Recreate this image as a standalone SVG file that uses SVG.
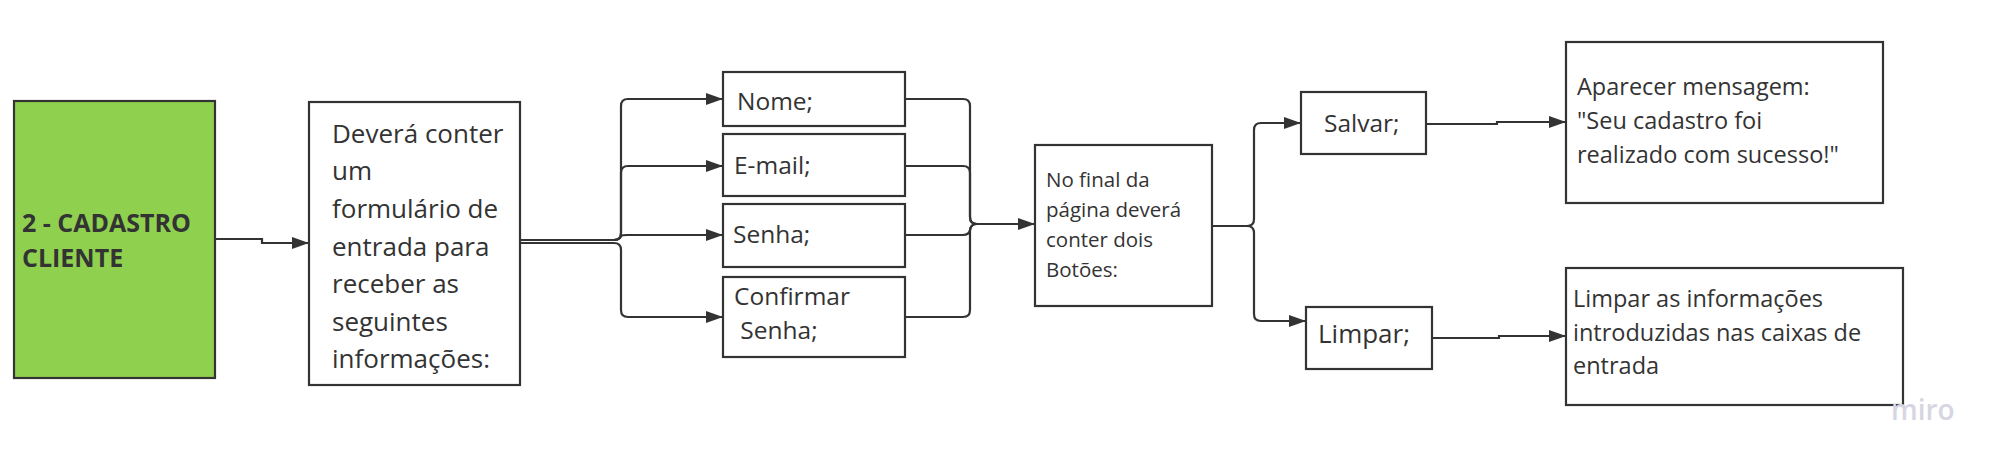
<svg xmlns="http://www.w3.org/2000/svg" width="2000" height="467" viewBox="0 0 2000 467">
<defs>
<marker id="arr" markerWidth="18" markerHeight="12" refX="17" refY="6" orient="auto" markerUnits="userSpaceOnUse">
<path d="M0,0 L17,6 L0,12 Z" fill="#333"/>
</marker>
<style>
.box{fill:#fff;stroke:#333;stroke-width:2.2}
.t{font-family:"Open Sans","Noto Sans","Liberation Sans",sans-serif;fill:#333}
.c{fill:none;stroke:#333;stroke-width:2.2}
</style>
</defs>
<rect width="2000" height="467" fill="#fff"/>
<g id="connectors">
<path class="c" d="M215,239 H262 V243 H309" marker-end="url(#arr)"/>
<path class="c" d="M520,240 H614 Q621,240 621,233 V106 Q621,99 628,99 H723" marker-end="url(#arr)"/>
<path class="c" d="M520,240 H614 Q621,240 621,233 V173 Q621,166 628,166 H723" marker-end="url(#arr)"/>
<path class="c" d="M520,240 H614 Q620,240 621,236 Q622,235 627,235 H723" marker-end="url(#arr)"/>
<path class="c" d="M520,243 H614 Q621,243 621,250 V310 Q621,317 628,317 H723" marker-end="url(#arr)"/>
<path class="c" d="M905,99 H963 Q970,99 970,106 V217 Q970,224 977,224 H1035" marker-end="url(#arr)"/>
<path class="c" d="M905,166 H963 Q970,166 970,173 V217 Q970,224 977,224 H1035"/>
<path class="c" d="M905,235 H963 Q969,235 970,230 Q971,224 977,224 H1035"/>
<path class="c" d="M905,317 H963 Q970,317 970,310 V231 Q970,224 977,224 H1035"/>
<path class="c" d="M1212,226 H1247 Q1254,226 1254,219 V130 Q1254,123 1261,123 H1301" marker-end="url(#arr)"/>
<path class="c" d="M1212,226 H1247 Q1254,226 1254,233 V314 Q1254,321 1261,321 H1306" marker-end="url(#arr)"/>
<path class="c" d="M1426,124 H1497 V122 H1566" marker-end="url(#arr)"/>
<path class="c" d="M1432,338 H1499 V336 H1566" marker-end="url(#arr)"/>
</g>
<g id="cadastro">
<rect x="14" y="101" width="201" height="277" fill="#8fd14f" stroke="#333" stroke-width="2.2"/>
<text class="t" font-size="25" font-weight="bold" fill="#1a1a1a" x="22" y="232">2 - CADASTRO</text>
<text class="t" font-size="25" font-weight="bold" fill="#1a1a1a" x="22" y="267">CLIENTE</text>
</g>
<g id="formulario">
<rect class="box" x="309" y="102" width="211" height="283"/>
<text class="t" font-size="26" x="332">
<tspan x="332" y="143">Deverá conter</tspan>
<tspan x="332" y="180">um</tspan>
<tspan x="332" y="218">formulário de</tspan>
<tspan x="332" y="256">entrada para</tspan>
<tspan x="332" y="293">receber as</tspan>
<tspan x="332" y="331">seguintes</tspan>
<tspan x="332" y="368">informações:</tspan>
</text>
</g>
<g id="nome">
<rect class="box" x="723" y="72" width="182" height="54"/>
<text class="t" font-size="24.5" x="737" y="110">Nome;</text>
</g>
<g id="email">
<rect class="box" x="723" y="134" width="182" height="62"/>
<text class="t" font-size="24.5" x="734" y="174">E-mail;</text>
</g>
<g id="senha">
<rect class="box" x="723" y="204" width="182" height="63"/>
<text class="t" font-size="24.5" x="733" y="243">Senha;</text>
</g>
<g id="confirmar">
<rect class="box" x="723" y="277" width="182" height="80"/>
<text class="t" font-size="24.5" x="734" y="305">Confirmar</text>
<text class="t" font-size="24.5" x="734" y="339" xml:space="preserve"> Senha;</text>
</g>
<g id="botoes">
<rect class="box" x="1035" y="145" width="177" height="161"/>
<text class="t" font-size="20.5">
<tspan x="1046" y="187">No final da</tspan>
<tspan x="1046" y="217">página deverá</tspan>
<tspan x="1046" y="247">conter dois</tspan>
<tspan x="1046" y="277">Botões:</tspan>
</text>
</g>
<g id="salvar">
<rect class="box" x="1301" y="92" width="125" height="62"/>
<text class="t" font-size="24.5" x="1324" y="132">Salvar;</text>
</g>
<g id="limpar">
<rect class="box" x="1306" y="307" width="126" height="62"/>
<text class="t" font-size="26" x="1318" y="343">Limpar;</text>
</g>
<g id="mensagem">
<rect class="box" x="1566" y="42" width="317" height="161"/>
<text class="t" font-size="23.5">
<tspan x="1577" y="95">Aparecer mensagem:</tspan>
<tspan x="1577" y="129">"Seu cadastro foi</tspan>
<tspan x="1577" y="163">realizado com sucesso!"</tspan>
</text>
</g>
<g id="limpar-info">
<rect class="box" x="1566" y="268" width="337" height="137"/>
<text class="t" font-size="23.5">
<tspan x="1573" y="307">Limpar as informações</tspan>
<tspan x="1573" y="341">introduzidas nas caixas de</tspan>
<tspan x="1573" y="374">entrada</tspan>
</text>
</g>
<text font-family="'Open Sans','Noto Sans',sans-serif" font-size="28" font-weight="600" fill="#d6d6e2" x="1891" y="420">miro</text>
</svg>
